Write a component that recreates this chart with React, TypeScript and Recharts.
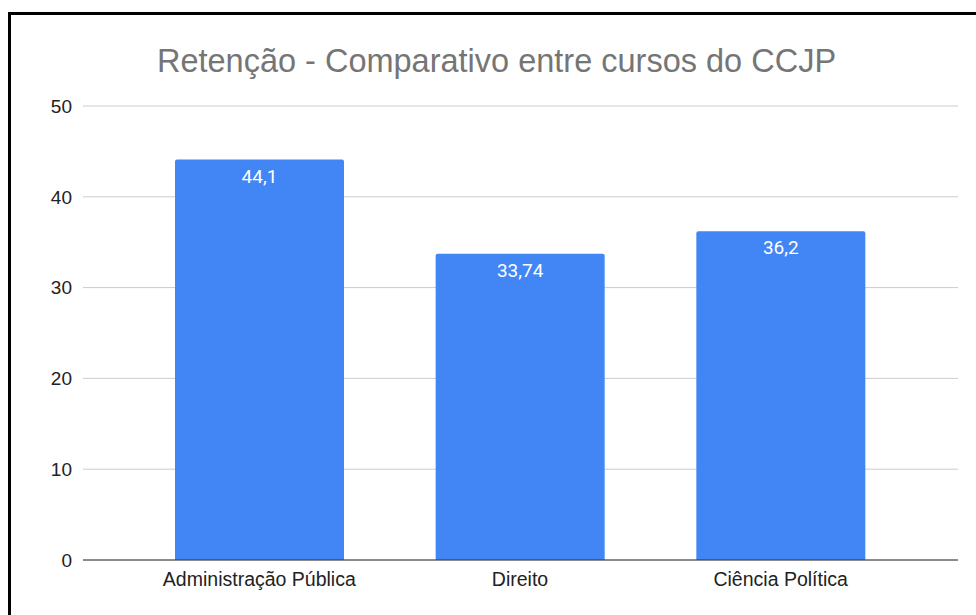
import { Bar, BarChart, CartesianGrid, LabelList, XAxis, YAxis } from "recharts";

const courses = ["Administração Pública", "Direito", "Ciência Política"];
const retention = [44.1, 33.74, 36.2];
const yTicks = [0, 10, 20, 30, 40, 50];

const data = courses.map((course, i) => ({ course, value: retention[i] }));

const fmt = (v: number) => String(v).replace(".", ",");

const sans = "Arial, 'Liberation Sans', sans-serif";

export default function App() {
  return (
    <div
      style={{
        position: "absolute",
        left: 8,
        top: 12,
        width: 965,
        height: 600,
        borderLeft: "3px solid #000",
        borderTop: "3px solid #000",
        overflow: "hidden",
        background: "#fff",
      }}
    >
      <div
        style={{
          position: "absolute",
          left: 0,
          top: 29.5,
          width: 971,
          textAlign: "center",
          fontFamily: sans,
          fontSize: 32.5,
          lineHeight: "32.5px",
          color: "#757575",
          whiteSpace: "nowrap",
        }}
      >
        Retenção - Comparativo entre cursos do CCJP
      </div>
      <BarChart
        width={965}
        height={600}
        data={data}
        margin={{ top: 91, right: 18, left: 12, bottom: 25 }}
      >
        <CartesianGrid vertical={false} stroke="#cccccc" />
        <XAxis
          dataKey="course"
          height={30}
          padding={{ left: 46, right: 47 }}
          tickLine={false}
          tickSize={0}
          tickMargin={12}
          axisLine={{ stroke: "#333333" }}
          tick={{ fill: "#222222", fontSize: 19.5, fontFamily: sans }}
        />
        <YAxis
          width={60}
          domain={[0, 50]}
          ticks={yTicks}
          axisLine={false}
          tickLine={false}
          tickSize={0}
          tickMargin={11}
          tick={{ fill: "#222222", fontSize: 19, fontFamily: sans }}
        />
        <Bar dataKey="value" fill="#4285F4" barSize={169} radius={[2, 2, 0, 0]} isAnimationActive={false}>
          <LabelList
            dataKey="value"
            position="insideTop"
            offset={9.5}
            formatter={(v: any) => fmt(Number(v))}
            fill="#ffffff"
            style={{ fontSize: 19, fontFamily: "Roboto, sans-serif" }}
          />
        </Bar>
      </BarChart>
    </div>
  );
}
